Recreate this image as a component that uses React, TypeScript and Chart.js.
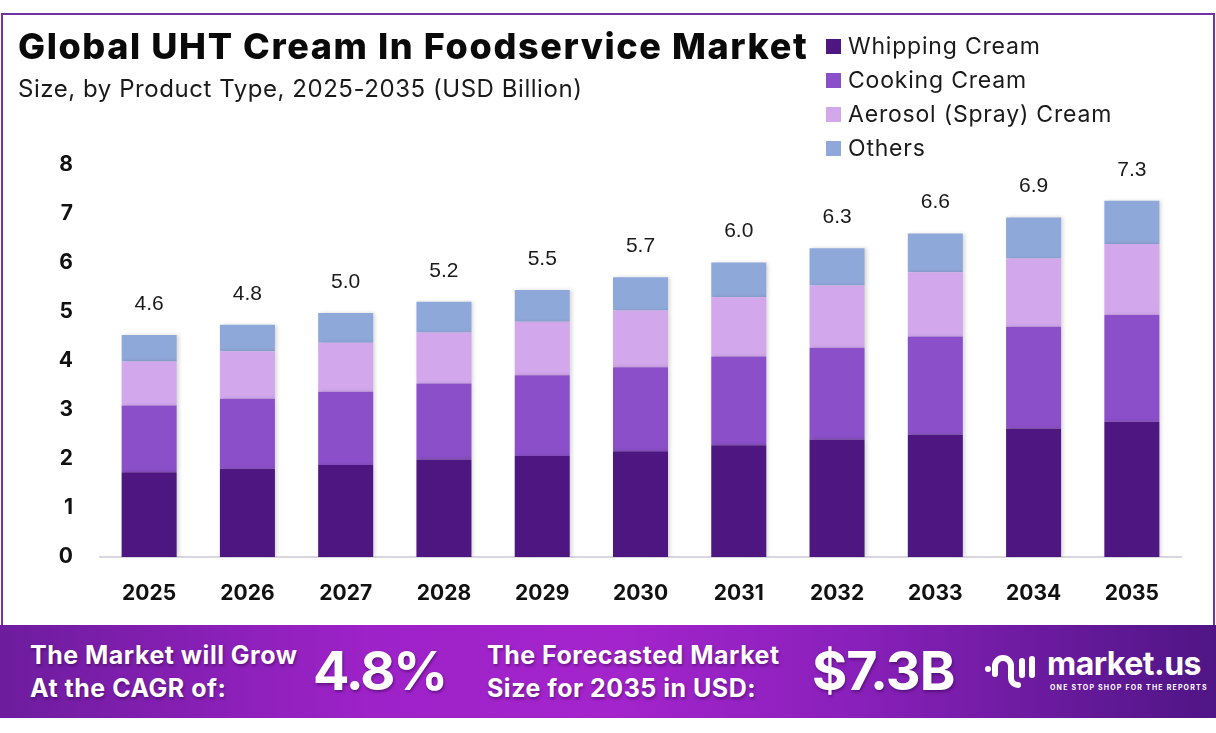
import React, { useEffect, useRef } from "react";
import { Chart, registerables } from "chart.js";

Chart.register(...registerables);

const years = ["2025", "2026", "2027", "2028", "2029", "2030", "2031", "2032", "2033", "2034", "2035"];
const whippingCream = [1.73, 1.8, 1.88, 1.99, 2.06, 2.16, 2.28, 2.4, 2.5, 2.62, 2.76];
const cookingCream = [1.36, 1.43, 1.49, 1.55, 1.65, 1.71, 1.81, 1.87, 2.0, 2.08, 2.18];
const aerosolCream = [0.9, 0.97, 1.0, 1.04, 1.09, 1.16, 1.21, 1.27, 1.31, 1.39, 1.45];
const othersCream = [0.54, 0.54, 0.61, 0.63, 0.65, 0.68, 0.71, 0.76, 0.79, 0.84, 0.88];
const totalLabels = ["4.6", "4.8", "5.0", "5.2", "5.5", "5.7", "6.0", "6.3", "6.6", "6.9", "7.3"];
const seriesNames = ["Whipping Cream", "Cooking Cream", "Aerosol (Spray) Cream", "Others"];
const seriesColors = ["#4e1681", "#8b50c9", "#d2a7ec", "#8fa8da"];
const yMax = 8;

const FONT = "Inter, 'Noto Sans', sans-serif";

const shadowPlugin = {
  id: "barShadow",
  beforeDatasetsDraw(chart: any) {
    const ctx = chart.ctx;
    ctx.save();
    ctx.shadowColor = "rgba(0,0,0,0.16)";
    ctx.shadowBlur = 4;
    ctx.shadowOffsetX = 2;
    ctx.shadowOffsetY = 0;
  },
  afterDatasetsDraw(chart: any) {
    chart.ctx.restore();
  },
};

const totalsPlugin = {
  id: "totals",
  afterDatasetsDraw(chart: any) {
    const { ctx } = chart;
    const meta = chart.getDatasetMeta(chart.data.datasets.length - 1);
    const y = chart.scales.y;
    ctx.save();
    ctx.shadowColor = "transparent";
    ctx.font = "21px 'Liberation Sans', Arial, sans-serif";
    ctx.fillStyle = "#1a1a1a";
    ctx.textAlign = "center";
    ctx.textBaseline = "middle";
    meta.data.forEach((bar: any, i: number) => {
      const sum = chart.data.datasets.reduce((a: number, d: any) => a + d.data[i], 0);
      ctx.fillText(totalLabels[i], bar.x, y.getPixelForValue(sum) - 31);
    });
    ctx.restore();
  },
};

function Logo() {
  return (
    <svg width="54" height="40" viewBox="0 0 54 40" style={{ position: "absolute", left: 984, top: 652 }}>
      <circle cx="4" cy="17" r="3" fill="#fff" />
      <path d="M11 22 V14 a8 8 0 0 1 16 0 V26 a7 7 0 0 0 7 7" stroke="#fff" strokeWidth="6" fill="none" strokeLinecap="round" />
      <rect x="35" y="6" width="6" height="20" rx="3" fill="#fff" />
      <rect x="45" y="4" width="6" height="22" rx="3" fill="#fff" />
    </svg>
  );
}

export default function App() {
  const ref = useRef<HTMLCanvasElement | null>(null);

  useEffect(() => {
    document.body.style.margin = "0";
    const series = [whippingCream, cookingCream, aerosolCream, othersCream];
    const chart = new Chart(ref.current as HTMLCanvasElement, {
      type: "bar",
      data: {
        labels: years,
        datasets: series.map((d, i) => ({
          label: seriesNames[i],
          data: d,
          backgroundColor: seriesColors[i],
          borderWidth: 0,
          barPercentage: 0.56,
          categoryPercentage: 1.0,
        })),
      },
      options: {
        animation: false,
        responsive: false,
        maintainAspectRatio: false,
        layout: { padding: { top: 165, right: 35, left: 0, bottom: 0 } },
        plugins: { legend: { display: false }, tooltip: { enabled: false } },
        scales: {
          x: {
            stacked: true,
            grid: { display: false, drawTicks: false },
            border: { display: true, color: "#d9d6e0", width: 2 },
            ticks: { padding: 24, color: "#111", font: { family: FONT, weight: "bold", size: 21 } },
            afterFit: (s: any) => {
              s.height = 176;
            },
          },
          y: {
            stacked: true,
            min: 0,
            max: yMax,
            grid: { display: false, drawTicks: false },
            border: { display: false },
            ticks: { stepSize: 1, padding: 27, color: "#111", font: { family: FONT, weight: "bold", size: 21 } },
            afterFit: (s: any) => {
              s.width = 100;
            },
          },
        },
      } as any,
      plugins: [shadowPlugin, totalsPlugin],
    });
    return () => chart.destroy();
  }, []);

  const white = "#ffffff";
  const bannerText: React.CSSProperties = {
    position: "absolute",
    color: white,
    fontFamily: FONT,
    fontWeight: 700,
    textShadow: "1px 2px 3px rgba(40,0,60,0.45)",
    whiteSpace: "nowrap",
  };

  return (
    <div style={{ position: "fixed", left: 0, top: 0, width: 1216, height: 733, background: "#fff", overflow: "hidden" }}>
      <div style={{ position: "absolute", left: 1, top: 13, width: 1210, height: 612, border: "2px solid #7331a6", boxSizing: "content-box" }} />
      <canvas ref={ref} width={1216} height={733} style={{ position: "absolute", left: 0, top: 0, width: 1216, height: 733 }} />
      <div style={{ position: "absolute", left: 18, top: 24, fontFamily: FONT, fontWeight: 800, fontSize: 36, color: "#0a0a0a", whiteSpace: "nowrap", letterSpacing: 1.6 }}>
        Global UHT Cream In Foodservice Market
      </div>
      <div style={{ position: "absolute", left: 18, top: 74, fontFamily: FONT, fontWeight: 400, fontSize: 24, color: "#1a1a1a", whiteSpace: "nowrap", letterSpacing: 0.55 }}>
        Size, by Product Type, 2025-2035 (USD Billion)
      </div>
      {seriesNames.map((n, i) => (
        <div key={n} style={{ position: "absolute", left: 826, top: 33 + i * 34, height: 26, display: "flex", alignItems: "center", fontFamily: FONT, fontSize: 23, letterSpacing: 0.8, color: "#1a1a1a", whiteSpace: "nowrap" }}>
          <span style={{ display: "inline-block", width: 15, height: 15, background: seriesColors[i], marginRight: 7 }} />
          {n}
        </div>
      ))}
      <div
        style={{
          position: "absolute",
          left: 0,
          top: 625,
          width: 1216,
          height: 93,
          background: "linear-gradient(90deg, #6d1c9e 0%, #9d22c8 30%, #a424cc 50%, #8a20bb 70%, #4f1585 100%)",
        }}
      />
      <div style={{ ...bannerText, left: 30, top: 639, fontSize: 25, lineHeight: "33px", letterSpacing: 0.5 }}>
        The Market will Grow
        <br />
        At the CAGR of:
      </div>
      <div style={{ ...bannerText, left: 313, top: 638, fontSize: 54, lineHeight: "66px", letterSpacing: -2 }}>4.8%</div>
      <div style={{ ...bannerText, left: 487, top: 639, fontSize: 25, lineHeight: "33px", letterSpacing: 0.5 }}>
        The Forecasted Market
        <br />
        Size for 2035 in USD:
      </div>
      <div style={{ ...bannerText, left: 812, top: 638, fontSize: 54, lineHeight: "66px", letterSpacing: -1 }}>$7.3B</div>
      <Logo />
      <div style={{ ...bannerText, left: 1047, top: 646, fontSize: 32, lineHeight: "36px", letterSpacing: -0.5, textShadow: "none" }}>market.us</div>
      <div style={{ ...bannerText, left: 1050, top: 684, fontSize: 7, lineHeight: "8px", letterSpacing: 1.2, textShadow: "none" }}>
        ONE STOP SHOP FOR THE REPORTS
      </div>
    </div>
  );
}
